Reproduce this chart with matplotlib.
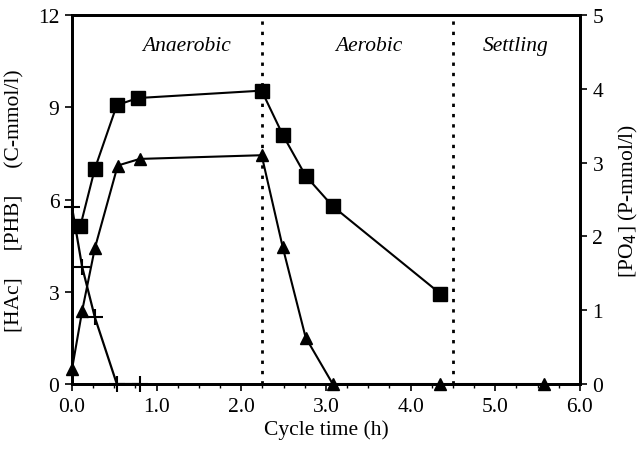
import matplotlib
matplotlib.use("Agg")
from matplotlib import pyplot as plt
from matplotlib.ticker import MultipleLocator, FormatStrFormatter

# PHB (C-mmol/l), left axis
phb_t = [0.10, 0.27, 0.53, 0.78, 2.24, 2.49, 2.76, 3.08, 4.35]
phb = [5.15, 7.0, 9.07, 9.3, 9.54, 8.1, 6.77, 5.78, 2.94]

# HAc (C-mmol/l), left axis
hac_t = [0.0, 0.12, 0.27, 0.53, 0.80]
hac = [5.75, 3.81, 2.17, 0.0, 0.0]

# PO4 (P-mmol/l), right axis
po4_t = [0.0, 0.12, 0.27, 0.54, 0.80, 2.24, 2.49, 2.76, 3.08, 4.35, 5.57]
po4 = [0.2, 0.99, 1.84, 2.96, 3.05, 3.1, 1.85, 0.63, 0.0, 0.0, 0.0]

phase_ends = [2.25, 4.5]
phase_names = ["Anaerobic", "Aerobic", "Settling"]
phase_mid = [1.35, 3.5, 5.24]

plt.rcParams['font.family'] = ['Liberation Serif', 'DejaVu Serif']
plt.rcParams['font.size'] = 15.5

fig = plt.figure(figsize=(6.41, 4.52), dpi=100)
ax = fig.add_axes([0.1123, 0.1482, 0.7925, 0.8164])
ax2 = ax.twinx()
# keep the left-axis series on top
ax.set_zorder(ax2.get_zorder() + 1)
ax.patch.set_visible(False)

ax.plot(phb_t, phb, color='black', ls='-', lw=1.5, marker='s', ms=9.5, clip_on=False, zorder=3)
ax.plot(hac_t, hac, color='black', ls='-', lw=1.6, marker='+', ms=11, mew=1.5, clip_on=False, zorder=4)
ax2.plot(po4_t, po4, color='black', ls='-', lw=1.5, marker='^', ms=8.5, clip_on=False, zorder=3)

for x in phase_ends:
    ax.axvline(x, color='black', ls=(0, (1.2, 2.5)), lw=2)

for name, x in zip(phase_names, phase_mid):
    ax.text(x, 11.0, name, style='italic', ha='center', va='center', fontsize=15.5)

ax.set_xlim(0, 6)
ax.set_ylim(0, 12)
ax2.set_ylim(0, 5)

ax.xaxis.set_major_locator(MultipleLocator(1))
ax.xaxis.set_minor_locator(MultipleLocator(0.25))
ax.xaxis.set_major_formatter(FormatStrFormatter('%.1f'))
ax.yaxis.set_major_locator(MultipleLocator(3))
ax2.yaxis.set_major_locator(MultipleLocator(1))

ax.tick_params(axis='both', which='major', direction='out', length=5, width=1.2, pad=4)
ax.tick_params(axis='x', which='minor', direction='out', length=3, width=1)
ax2.tick_params(axis='y', direction='out', length=5, width=1.2, pad=4)

for a in (ax, ax2):
    for s in a.spines.values():
        s.set_linewidth(2)

ax.set_xlabel("Cycle time (h)", labelpad=3)
ax.set_ylabel("[HAc]     [PHB]     (C-mmol/l)", labelpad=10)
ax2.set_ylabel("[PO$_4$] (P-mmol/l)", labelpad=10)

plt.savefig('out.png', dpi=100)
